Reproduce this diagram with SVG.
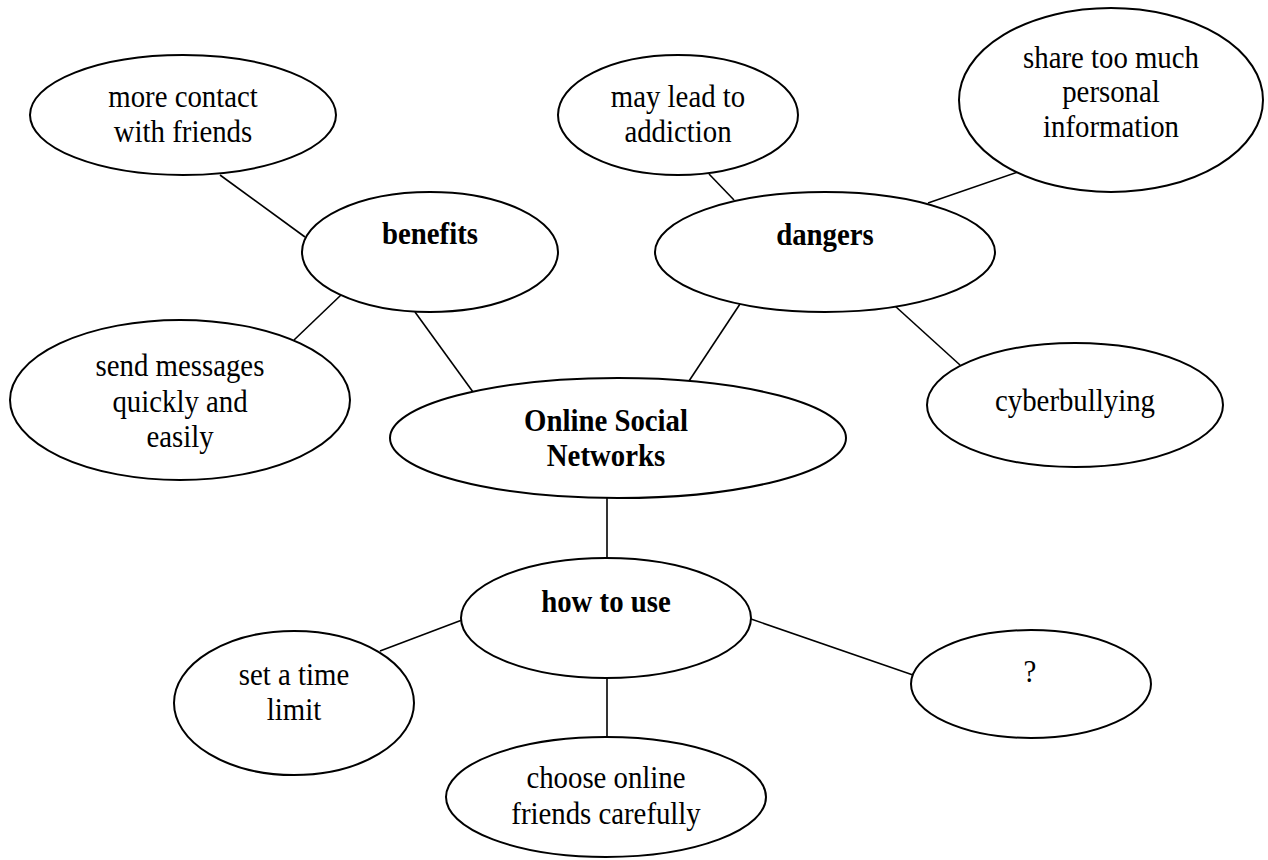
<svg xmlns="http://www.w3.org/2000/svg" width="1268" height="860" viewBox="0 0 1268 860">
<style>
.n ellipse{fill:#fff;stroke:#000;stroke-width:2}
.c line{stroke:#000;stroke-width:1.6}
text{font-family:"Liberation Serif","Times New Roman",serif;font-size:32px;fill:#000;text-anchor:middle;transform:scaleX(0.9);transform-box:fill-box;transform-origin:center}
.b{font-weight:bold}
</style>
<rect width="1268" height="860" fill="#fff"/>
<g id="connectors" class="c">
<line x1="220" y1="175" x2="305" y2="237"/>
<line x1="341" y1="295" x2="294" y2="340"/>
<line x1="415" y1="312" x2="473" y2="392"/>
<line x1="709" y1="174" x2="734" y2="200"/>
<line x1="1018" y1="172" x2="928" y2="203"/>
<line x1="740" y1="304" x2="689" y2="381"/>
<line x1="895" y1="306" x2="960" y2="365"/>
<line x1="607" y1="498" x2="607" y2="558"/>
<line x1="462" y1="620" x2="380" y2="651"/>
<line x1="751" y1="619" x2="913" y2="675"/>
<line x1="607" y1="679" x2="607" y2="737"/>
</g>
<g id="more-contact" class="n"><ellipse cx="183" cy="115" rx="153" ry="60"/><text x="183" y="107">more contact</text><text x="183" y="142">with friends</text></g>
<g id="benefits" class="n"><ellipse cx="430" cy="252" rx="128" ry="60"/><text class="b" x="430" y="244">benefits</text></g>
<g id="send-messages" class="n"><ellipse cx="180" cy="400" rx="170" ry="80"/><text x="180" y="376">send messages</text><text x="180" y="412">quickly and</text><text x="180" y="447">easily</text></g>
<g id="online-social-networks" class="n"><ellipse cx="618" cy="438" rx="228" ry="60"/><text class="b" x="606" y="431">Online Social</text><text class="b" x="606" y="466">Networks</text></g>
<g id="may-lead" class="n"><ellipse cx="678" cy="115" rx="120" ry="60"/><text x="678" y="107">may lead to</text><text x="678" y="142">addiction</text></g>
<g id="share-too-much" class="n"><ellipse cx="1111" cy="100" rx="152" ry="92"/><text x="1111" y="68">share too much</text><text x="1111" y="102">personal</text><text x="1111" y="137">information</text></g>
<g id="dangers" class="n"><ellipse cx="825" cy="252" rx="170" ry="60"/><text class="b" x="825" y="245">dangers</text></g>
<g id="cyberbullying" class="n"><ellipse cx="1075" cy="405" rx="148" ry="62"/><text x="1075" y="411">cyberbullying</text></g>
<g id="how-to-use" class="n"><ellipse cx="606" cy="618" rx="145" ry="60"/><text class="b" x="606" y="612">how to use</text></g>
<g id="set-time-limit" class="n"><ellipse cx="294" cy="703" rx="120" ry="72"/><text x="294" y="685">set a time</text><text x="294" y="720">limit</text></g>
<g id="question" class="n"><ellipse cx="1031" cy="684" rx="120" ry="54"/><text x="1030" y="682">?</text></g>
<g id="choose-friends" class="n"><ellipse cx="606" cy="797" rx="160" ry="60"/><text x="606" y="788">choose online</text><text x="606" y="824">friends carefully</text></g>
</svg>
